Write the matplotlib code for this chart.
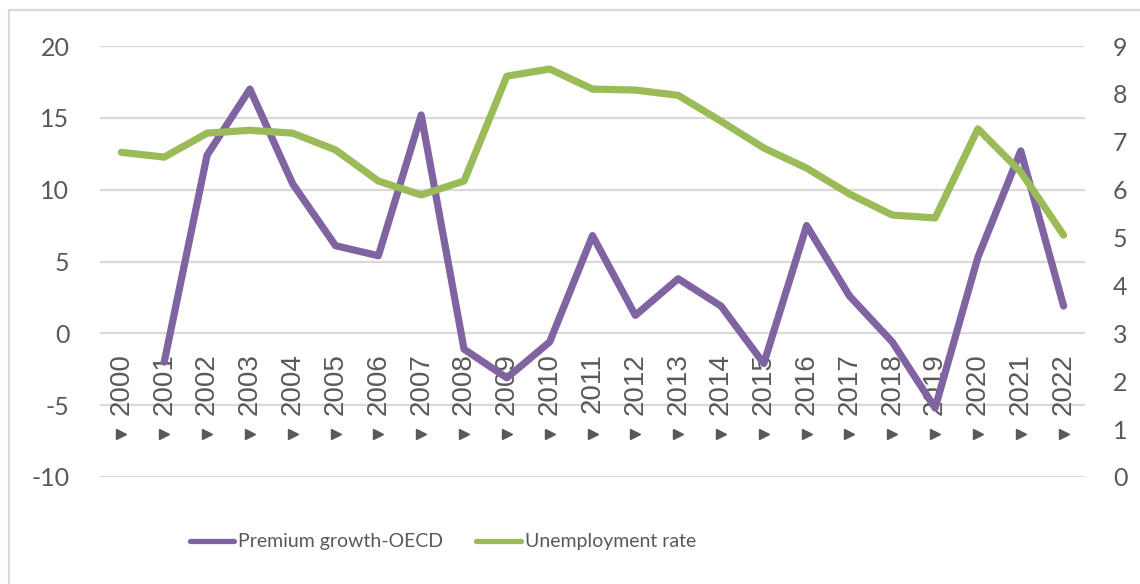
import matplotlib.pyplot as plt
import numpy as np
from matplotlib.patches import Rectangle

plt.rcParams['axes.unicode_minus'] = False

# dane roczne
lata = [str(r) for r in range(2000, 2023)]
premium = [np.nan, -2.0, 12.4, 17.0, 10.4, 6.1, 5.4, 15.2, -1.1, -3.1, -0.6, 6.8,
           1.25, 3.8, 1.9, -2.1, 7.5, 2.6, -0.6, -5.2, 5.3, 12.7, 1.9]
bezrobocie = [6.78, 6.68, 7.18, 7.24, 7.18, 6.83, 6.18, 5.89, 6.18, 8.37, 8.52, 8.1,
              8.08, 7.97, 7.43, 6.87, 6.45, 5.91, 5.47, 5.41, 7.27, 6.37, 5.05]

fiolet = '#8064A2'
zielony = '#9BBB59'
szary = '#595959'
siatka = '#D9D9D9'

fig = plt.figure(figsize=(11.4, 5.84), dpi=100)
ax = fig.add_axes([100/1140, 1-477/584, 985/1140, 431/584])
ax2 = ax.twinx()

x = np.arange(len(lata))

ax.plot(x, premium, color=fiolet, lw=5.2, solid_capstyle='round',
        solid_joinstyle='round', zorder=3, label='Premium growth-OECD')
ax2.plot(x, bezrobocie, color=zielony, lw=5.2, solid_capstyle='round',
         solid_joinstyle='round', zorder=3, label='Unemployment rate')

ax.set_xlim(-0.5, len(lata) - 0.5)
ax.set_ylim(-10, 20)
ax.set_yticks([-10, -5, 0, 5, 10, 15, 20])
ax2.set_ylim(0, 9)
ax2.set_yticks(range(0, 10))

ax.set_xticks([])
ax.grid(axis='y', color=siatka, lw=1.6)
ax.set_axisbelow(True)

for a in (ax, ax2):
    for s in a.spines.values():
        s.set_visible(False)
    a.tick_params(axis='y', length=0, labelsize=18, labelcolor=szary)
    for t in a.get_yticklabels():
        t.set_fontfamily('Lato')
ax.tick_params(axis='y', pad=22)
ax2.tick_params(axis='y', pad=20)

# etykiety lat przy osi zero + trojkaty
for i, rok in enumerate(lata):
    ax.text(i, -1.4, rok, rotation=90, ha='center', va='top', fontsize=20,
            color=szary, family='Liberation Sans', zorder=1)
ax.plot(x, [-7.0] * len(x), linestyle='none', marker='>', markersize=7.5,
        color=szary, zorder=1, clip_on=False)

h1, l1 = ax.get_legend_handles_labels()
h2, l2 = ax2.get_legend_handles_labels()
leg = fig.legend(h1 + h2, l1 + l2, loc='center', bbox_to_anchor=(443/1140, 1-542/584),
                 ncol=2, frameon=False, handlelength=2.3, handletextpad=0.2,
                 columnspacing=1.7, prop={'family': 'Lato', 'size': 14})
for t in leg.get_texts():
    t.set_color(szary)
for ln in leg.get_lines():
    ln.set_linewidth(3.8)

# ramka wykresu
fig.patches.append(Rectangle((9/1140, -0.2), 1.2, 1.2 - 10/584,
                             transform=fig.transFigure, fill=False,
                             edgecolor=siatka, lw=1.6))

fig.savefig('out.png', dpi=100)
